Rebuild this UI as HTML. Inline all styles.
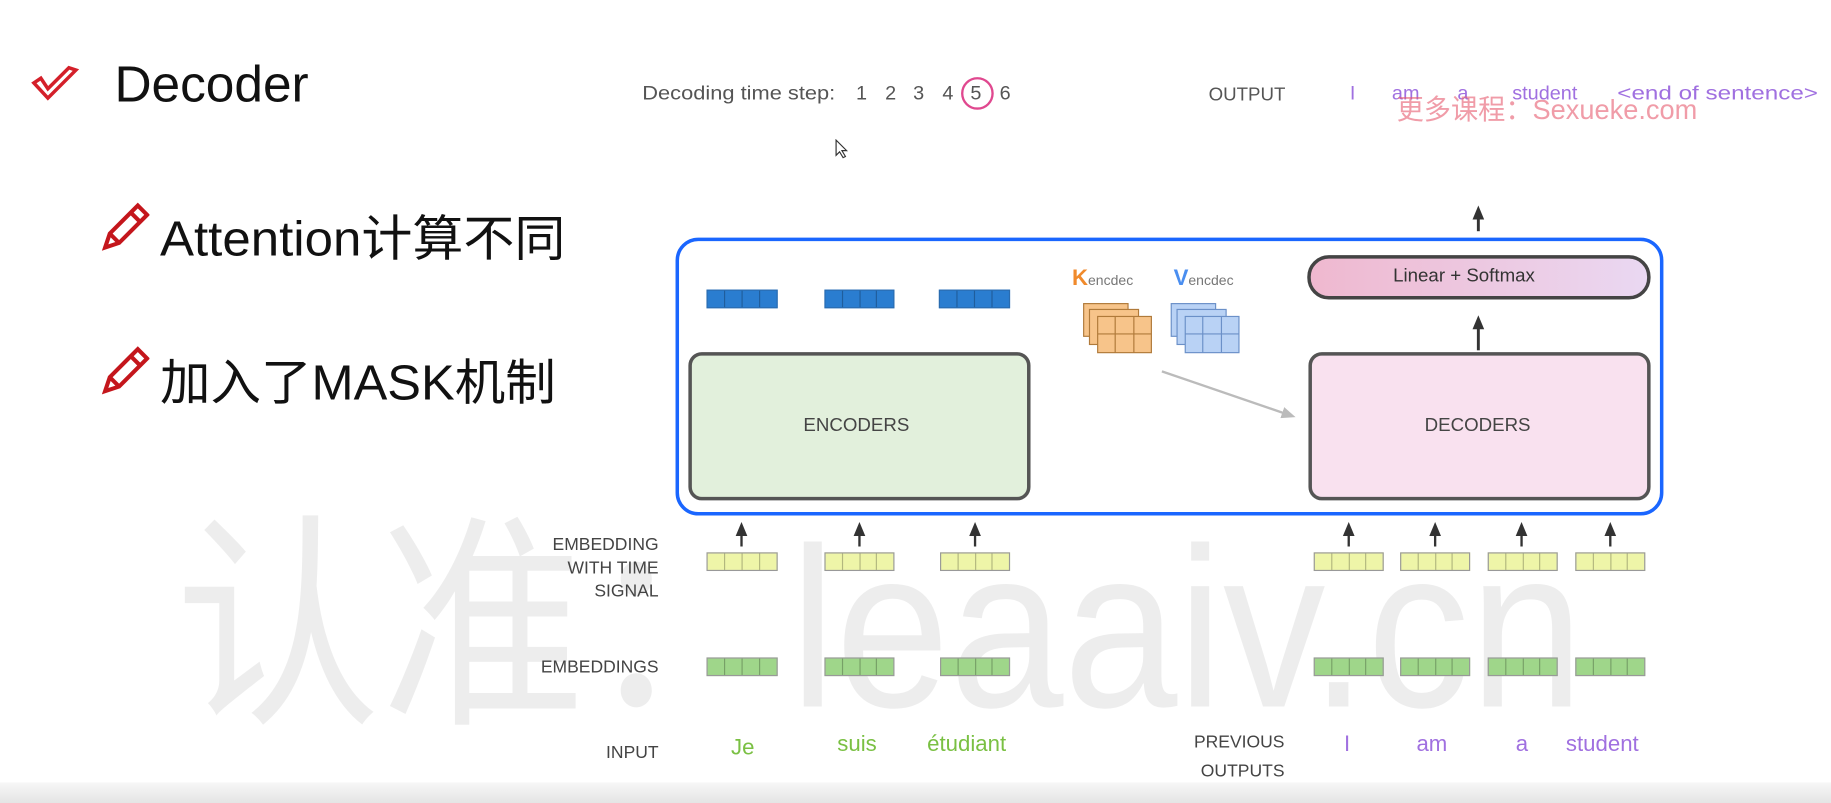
<!DOCTYPE html>
<html><head><meta charset="utf-8"><style>
html,body{margin:0;padding:0;background:#fff;overflow:hidden}
#w{position:relative;width:1568px;height:688px;transform:scale(1.16773);transform-origin:0 0;font-family:"Liberation Sans","Noto Sans CJK SC",sans-serif}
.a{position:absolute}
.t{position:absolute;white-space:nowrap}
.bar{position:absolute;height:16px;display:flex;border:1px solid #999;box-sizing:border-box}
.bar i{flex:1;border-right:1px solid rgba(0,0,0,.25)}
.bar i:last-child{border-right:none}
.lab{position:absolute;color:#444;font-size:15px;text-align:right;line-height:20px}
</style></head><body><div id="w">
<div class="t" style="left:150px;top:380px;font-size:195px;color:rgba(0,0,0,.07);transform:scaleX(.9);transform-origin:0 0">认准：leaaiv.cn</div>
<svg class="a" style="left:26px;top:56px" width="42" height="32"><path d="M3 15 L15 28 L39 4 L33 2 L15 20 L9 11 Z" fill="none" stroke="#d4202a" stroke-width="3"/></svg>
<div class="t" style="left:98px;top:48px;font-size:44px;color:#111">Decoder</div>
<svg class="a" style="left:84px;top:172px" width="44" height="46"><path d="M6 40 L10 28 L34 4 L42 12 L18 36 Z M10 28 L18 36 M28 10 L36 18" fill="none" stroke="#c4161c" stroke-width="3.5"/></svg>
<div class="t" style="left:137px;top:171px;font-size:42px;color:#111;transform:scaleX(1.04);transform-origin:0 0">Attention计算不同</div>
<svg class="a" style="left:84px;top:295px" width="44" height="46"><path d="M6 40 L10 28 L34 4 L42 12 L18 36 Z M10 28 L18 36 M28 10 L36 18" fill="none" stroke="#c4161c" stroke-width="3.5"/></svg>
<div class="t" style="left:137px;top:294px;font-size:42px;color:#111;transform:scaleX(1.03);transform-origin:0 0">加入了MASK机制</div>
<div class="t" style="left:550px;top:70px;font-size:17px;color:#555;transform:scaleX(1.1);transform-origin:0 0">Decoding time step:</div>
<div class="t" style="left:733px;top:70px;font-size:17px;color:#555">1</div>
<div class="t" style="left:758px;top:70px;font-size:17px;color:#555">2</div>
<div class="t" style="left:782px;top:70px;font-size:17px;color:#555">3</div>
<div class="t" style="left:807px;top:70px;font-size:17px;color:#555">4</div>
<div class="t" style="left:831px;top:70px;font-size:17px;color:#555">5</div>
<div class="t" style="left:856px;top:70px;font-size:17px;color:#555">6</div>
<div class="a" style="left:823px;top:66px;width:24px;height:24px;border:2px solid #e0488f;border-radius:50%"></div>
<svg class="a" style="left:715px;top:119px" width="12" height="18"><path d="M1 1 L1 14 L4 11 L7 16 L9 15 L6 10 L10 10 Z" fill="#fff" stroke="#333"/></svg>
<div class="t" style="left:1035px;top:73px;font-size:16px;color:#555">OUTPUT</div>
<div class="t" style="left:1156px;top:70px;font-size:17px;color:#a070e0">I</div>
<div class="t" style="left:1192px;top:70px;font-size:17px;color:#a070e0">am</div>
<div class="t" style="left:1248px;top:70px;font-size:17px;color:#a070e0">a</div>
<div class="t" style="left:1295px;top:70px;font-size:17px;color:#a070e0">student</div>
<div class="t" style="left:1385px;top:70px;font-size:17px;color:#a070e0;transform:scaleX(1.22);transform-origin:0 0">&lt;end of sentence&gt;</div>
<div class="t" style="left:1196px;top:74px;font-size:24px;color:rgba(230,90,110,.6);transform:scaleX(.97);transform-origin:0 0">更多课程：Sexueke.com</div>
<svg class="a" style="left:0;top:0" width="1568" height="688">
<defs><marker id="m" markerUnits="userSpaceOnUse" markerWidth="12" markerHeight="12" refX="2" refY="6" orient="auto"><path d="M0 1 L12 6 L0 11 Z" fill="#333"/></marker>
<marker id="g" markerUnits="userSpaceOnUse" markerWidth="12" markerHeight="12" refX="2" refY="6" orient="auto"><path d="M0 1 L12 6 L0 11 Z" fill="#bbb"/></marker>
<linearGradient id="pg"><stop offset="0" stop-color="#efb8cf"/><stop offset="1" stop-color="#ead8f2"/></linearGradient></defs>
<line x1="1266" y1="198" x2="1266" y2="186" stroke="#333" stroke-width="2.5" marker-end="url(#m)"/>
<rect x="580" y="205" width="843" height="235" rx="18" fill="none" stroke="#1a66ff" stroke-width="3"/>
<rect x="1121" y="220" width="291" height="35" rx="17" fill="url(#pg)" stroke="#444" stroke-width="3"/>
<line x1="1266" y1="300" x2="1266" y2="280" stroke="#333" stroke-width="2.5" marker-end="url(#m)"/>
<rect x="591" y="303" width="290" height="124" rx="10" fill="#e2f0dc" stroke="#555" stroke-width="3"/>
<rect x="1122" y="303" width="290" height="124" rx="10" fill="#f9e1ef" stroke="#555" stroke-width="3"/>
<line x1="995" y1="318" x2="1100" y2="354" stroke="#bbb" stroke-width="2" marker-end="url(#g)"/>
<g stroke="#333" stroke-width="2" marker-end="url(#m)">
<line x1="635" y1="468" x2="635" y2="457"/><line x1="736" y1="468" x2="736" y2="457"/><line x1="835" y1="468" x2="835" y2="457"/>
<line x1="1155" y1="468" x2="1155" y2="457"/><line x1="1229" y1="468" x2="1229" y2="457"/><line x1="1303" y1="468" x2="1303" y2="457"/><line x1="1379" y1="468" x2="1379" y2="457"/>
</g>
<g stroke="#b07a3a" stroke-width="1">
<rect x="928" y="260" width="38" height="28" fill="#f7c48a"/><rect x="933" y="265" width="42" height="30" fill="#f7c48a"/><rect x="940" y="271" width="46" height="31" fill="#f7c48a"/>
<path d="M955 271 V302 M971 271 V302 M940 286 H986"/></g>
<g stroke="#6b90c8" stroke-width="1">
<rect x="1003" y="260" width="38" height="28" fill="#b9d2f5"/><rect x="1008" y="265" width="42" height="30" fill="#b9d2f5"/><rect x="1015" y="271" width="46" height="31" fill="#b9d2f5"/>
<path d="M1030 271 V302 M1046 271 V302 M1015 286 H1061"/></g>
</svg>
<div class="t" style="left:1193px;top:228px;font-size:16px;color:#333">Linear + Softmax</div>
<div class="t" style="left:688px;top:356px;font-size:16px;color:#444">ENCODERS</div>
<div class="t" style="left:1220px;top:356px;font-size:16px;color:#444">DECODERS</div>
<div class="t" style="left:918px;top:228px;font-size:19px;color:#f08a2c;font-weight:bold">K<span style="font-size:12px;color:#777;font-weight:normal">encdec</span></div>
<div class="t" style="left:1005px;top:228px;font-size:19px;color:#4a8ef0;font-weight:bold">V<span style="font-size:12px;color:#777;font-weight:normal">encdec</span></div>
<div class="bar" style="left:605px;top:248px;width:61px;background:#2a7dd0;border-color:#2a6cb0"><i></i><i></i><i></i><i></i></div>
<div class="bar" style="left:706px;top:248px;width:60px;background:#2a7dd0;border-color:#2a6cb0"><i></i><i></i><i></i><i></i></div>
<div class="bar" style="left:804px;top:248px;width:61px;background:#2a7dd0;border-color:#2a6cb0"><i></i><i></i><i></i><i></i></div>
<div class="bar" style="left:605px;top:473px;width:61px;background:#eef5a8"><i></i><i></i><i></i><i></i></div>
<div class="bar" style="left:706px;top:473px;width:60px;background:#eef5a8"><i></i><i></i><i></i><i></i></div>
<div class="bar" style="left:805px;top:473px;width:60px;background:#eef5a8"><i></i><i></i><i></i><i></i></div>
<div class="bar" style="left:1125px;top:473px;width:60px;background:#eef5a8"><i></i><i></i><i></i><i></i></div>
<div class="bar" style="left:1199px;top:473px;width:60px;background:#eef5a8"><i></i><i></i><i></i><i></i></div>
<div class="bar" style="left:1274px;top:473px;width:60px;background:#eef5a8"><i></i><i></i><i></i><i></i></div>
<div class="bar" style="left:1349px;top:473px;width:60px;background:#eef5a8"><i></i><i></i><i></i><i></i></div>
<div class="bar" style="left:605px;top:563px;width:61px;background:#9fd68a"><i></i><i></i><i></i><i></i></div>
<div class="bar" style="left:706px;top:563px;width:60px;background:#9fd68a"><i></i><i></i><i></i><i></i></div>
<div class="bar" style="left:805px;top:563px;width:60px;background:#9fd68a"><i></i><i></i><i></i><i></i></div>
<div class="bar" style="left:1125px;top:563px;width:60px;background:#9fd68a"><i></i><i></i><i></i><i></i></div>
<div class="bar" style="left:1199px;top:563px;width:60px;background:#9fd68a"><i></i><i></i><i></i><i></i></div>
<div class="bar" style="left:1274px;top:563px;width:60px;background:#9fd68a"><i></i><i></i><i></i><i></i></div>
<div class="bar" style="left:1349px;top:563px;width:60px;background:#9fd68a"><i></i><i></i><i></i><i></i></div>
<div class="lab" style="right:1004px;top:457px">EMBEDDING<br>WITH TIME<br>SIGNAL</div>
<div class="lab" style="right:1004px;top:562px">EMBEDDINGS</div>
<div class="lab" style="right:1004px;top:635px">INPUT</div>
<div class="lab" style="right:468px;top:623px;line-height:25px">PREVIOUS<br>OUTPUTS</div>
<div class="t" style="left:626px;top:630px;font-size:19px;color:#7ac043">Je</div>
<div class="t" style="left:717px;top:627px;font-size:19px;color:#7ac043">suis</div>
<div class="t" style="left:794px;top:627px;font-size:19px;color:#7ac043">étudiant</div>
<div class="t" style="left:1151px;top:627px;font-size:19px;color:#a070e0">I</div>
<div class="t" style="left:1213px;top:627px;font-size:19px;color:#a070e0">am</div>
<div class="t" style="left:1298px;top:627px;font-size:19px;color:#a070e0">a</div>
<div class="t" style="left:1341px;top:627px;font-size:19px;color:#a070e0">student</div>
<div class="a" style="left:0;top:670px;width:1568px;height:18px;background:linear-gradient(#f7f7f7,#e4e4e4)"></div>
</div></body></html>
